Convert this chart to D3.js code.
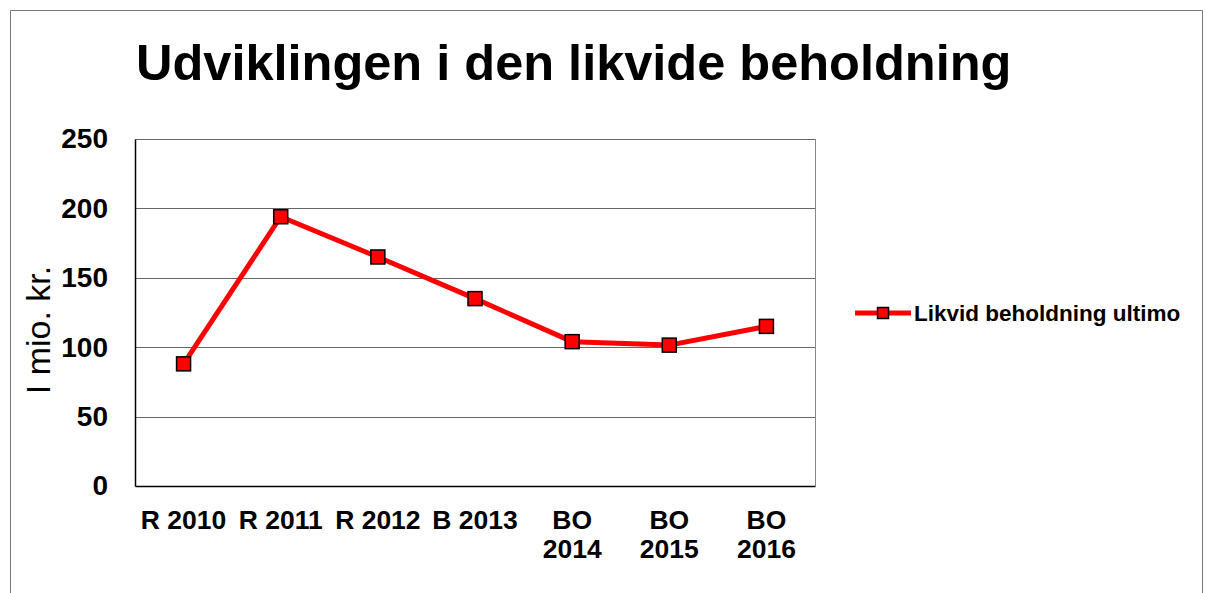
<!DOCTYPE html>
<html>
<head>
<meta charset="utf-8">
<script src="https://cdn.jsdelivr.net/npm/d3@7"></script>
<style>
  body { margin: 0; background: #fff; }
  text { font-family: "Liberation Sans", Arial, sans-serif; }
</style>
</head>
<body>
<div id="chart"></div>
<script>
// data
var categories = [["R 2010"], ["R 2011"], ["R 2012"], ["B 2013"], ["BO", "2014"], ["BO", "2015"], ["BO", "2016"]];
var values = [88, 194, 165, 135, 104, 101.5, 115];
var yTicks = [0, 50, 100, 150, 200, 250];
var seriesName = "Likvid beholdning ultimo";

var W = 1207, H = 593;
var margin = { top: 139, right: 392, bottom: 107, left: 135 };
var width = W - margin.left - margin.right;
var height = H - margin.top - margin.bottom;

var svg = d3.select("#chart").append("svg")
  .attr("width", W)
  .attr("height", H);

// outer frame (no bottom edge, cut off like the original)
svg.append("path")
  .attr("d", "M10.5," + H + "V10.5H1202.5V" + H)
  .attr("fill", "none")
  .attr("stroke", "#777")
  .attr("stroke-width", 1);

svg.append("text")
  .attr("x", 136)
  .attr("y", 80)
  .style("font-size", "50.5px")
  .style("font-weight", "bold")
  .text("Udviklingen i den likvide beholdning");

var g = svg.append("g")
  .attr("transform", "translate(" + margin.left + "," + margin.top + ")");

var x = d3.scaleBand()
  .domain(categories.map(function (d) { return d.join(" "); }))
  .range([0, width]);

var y = d3.scaleLinear()
  .domain([0, 250])
  .range([height, 0]);

// gridlines
g.selectAll(".grid").data(yTicks.slice(1)).enter()
  .append("line")
  .attr("class", "grid")
  .attr("x1", 0).attr("x2", width)
  .attr("y1", function (d) { return Math.round(y(d)) + 0.5; })
  .attr("y2", function (d) { return Math.round(y(d)) + 0.5; })
  .attr("stroke", "#666")
  .attr("stroke-width", 1);

// right edge of plot area
g.append("line")
  .attr("x1", width + 0.5).attr("x2", width + 0.5)
  .attr("y1", 0).attr("y2", height)
  .attr("stroke", "#888");

// y axis
var yAxis = g.append("g")
  .call(d3.axisLeft(y).tickValues(yTicks).tickSize(0).tickPadding(27));
yAxis.select(".domain").attr("stroke", "#000").attr("stroke-width", 1.5);
yAxis.selectAll("text")
  .style("font-size", "28px")
  .style("font-weight", "bold")
  .attr("fill", "#000");

// x axis
var xAxis = g.append("g")
  .attr("transform", "translate(0," + height + ")")
  .call(d3.axisBottom(x).tickSize(0).tickFormat(""));
xAxis.select(".domain").attr("stroke", "#000").attr("stroke-width", 1.5);
xAxis.selectAll(".tick").each(function (d, i) {
  var t = d3.select(this).append("text")
    .attr("fill", "#000")
    .attr("text-anchor", "middle")
    .style("font-size", "26.5px")
    .style("font-weight", "bold");
  categories[i].forEach(function (line, j) {
    t.append("tspan")
      .attr("x", 0)
      .attr("y", 43 + j * 28.5)
      .text(line);
  });
});

// y label
svg.append("text")
  .attr("transform", "translate(50,330) rotate(-90)")
  .attr("text-anchor", "middle")
  .style("font-size", "34px")
  .text("I mio. kr.");

var cx = function (d, i) { return x(categories[i].join(" ")) + x.bandwidth() / 2; };

var line = d3.line()
  .x(cx)
  .y(function (d) { return y(d); });

g.append("path")
  .datum(values)
  .attr("d", line)
  .attr("fill", "none")
  .attr("stroke", "#ff0000")
  .attr("stroke-width", 5)
  .attr("stroke-linejoin", "round");

var ms = 14;
g.selectAll(".marker").data(values).enter()
  .append("rect")
  .attr("class", "marker")
  .attr("x", function (d, i) { return cx(d, i) - ms / 2; })
  .attr("y", function (d) { return y(d) - ms / 2; })
  .attr("width", ms)
  .attr("height", ms)
  .attr("fill", "#ff0000")
  .attr("stroke", "#000")
  .attr("stroke-width", 1.5);

// legend
var lg = svg.append("g").attr("transform", "translate(855,313)");
lg.append("line")
  .attr("x1", 0).attr("x2", 56)
  .attr("stroke", "#ff0000")
  .attr("stroke-width", 5);
lg.append("rect")
  .attr("x", 28 - 5.5).attr("y", -5.5)
  .attr("width", 11).attr("height", 11)
  .attr("fill", "#ff0000")
  .attr("stroke", "#000")
  .attr("stroke-width", 1.5);
lg.append("text")
  .attr("x", 59)
  .attr("y", 8)
  .style("font-size", "22.5px")
  .style("font-weight", "bold")
  .text(seriesName);
</script>
</body>
</html>
